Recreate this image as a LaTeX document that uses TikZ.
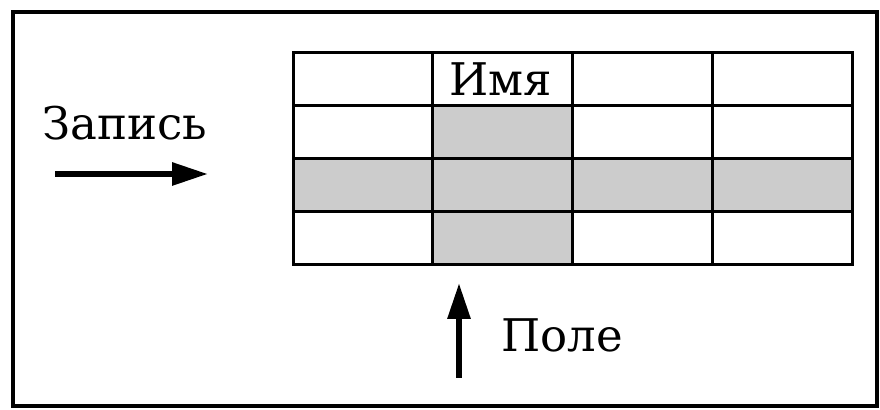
\documentclass[tikz,border=0pt]{standalone}
\usepackage{fontspec}
\setmainfont{DejaVu Serif}
\usetikzlibrary{arrows.meta}

\begin{document}
\begin{tikzpicture}[x=0.5pt, y=-0.5pt,
    cell/.style={draw, line width=1.5pt, minimum width=69.875pt, minimum height=26.5pt, inner sep=0pt},
    shaded/.style={fill=gray!40},
    bigarrow/.style={-{Triangle[length=18pt, width=11pt]}, line width=3pt},
    lbl/.style={font=\fontsize{22.5}{27}\selectfont, inner sep=0pt}]
    \useasboundingbox (0,0) rectangle (880,410);

    % Outer frame
    \draw[line width=2pt] (13,12) rectangle (877,406);

    % Table: 4 columns x 4 rows
    \foreach \c in {0,...,3} {
        \foreach \r in {0,...,3} {
            \node[cell] (c\c\r) at (362.875+139.75*\c, 79.5+53*\r) {};
        }
    }
    % Shaded field column and record row
    \foreach \c/\r in {1/1, 1/2, 1/3, 0/2, 2/2, 3/2} {
        \node[cell, shaded] at (c\c\r) {};
    }

    % Labels
    \node[lbl, anchor=base] (name) at (501,96) {Имя};
    \node[lbl, anchor=base] (record) at (125,140) {Запись};
    \node[lbl, anchor=base west] (field) at (501,352) {Поле};

    % Arrows
    \coordinate (rectail) at (55,174);
    \coordinate (rechead) at (208,174);
    \coordinate (fldtail) at (459,378);
    \coordinate (fldhead) at (459,283);
    \draw[bigarrow] (rectail) -- (rechead);
    \draw[bigarrow] (fldtail) -- (fldhead);
\end{tikzpicture}
\end{document}
